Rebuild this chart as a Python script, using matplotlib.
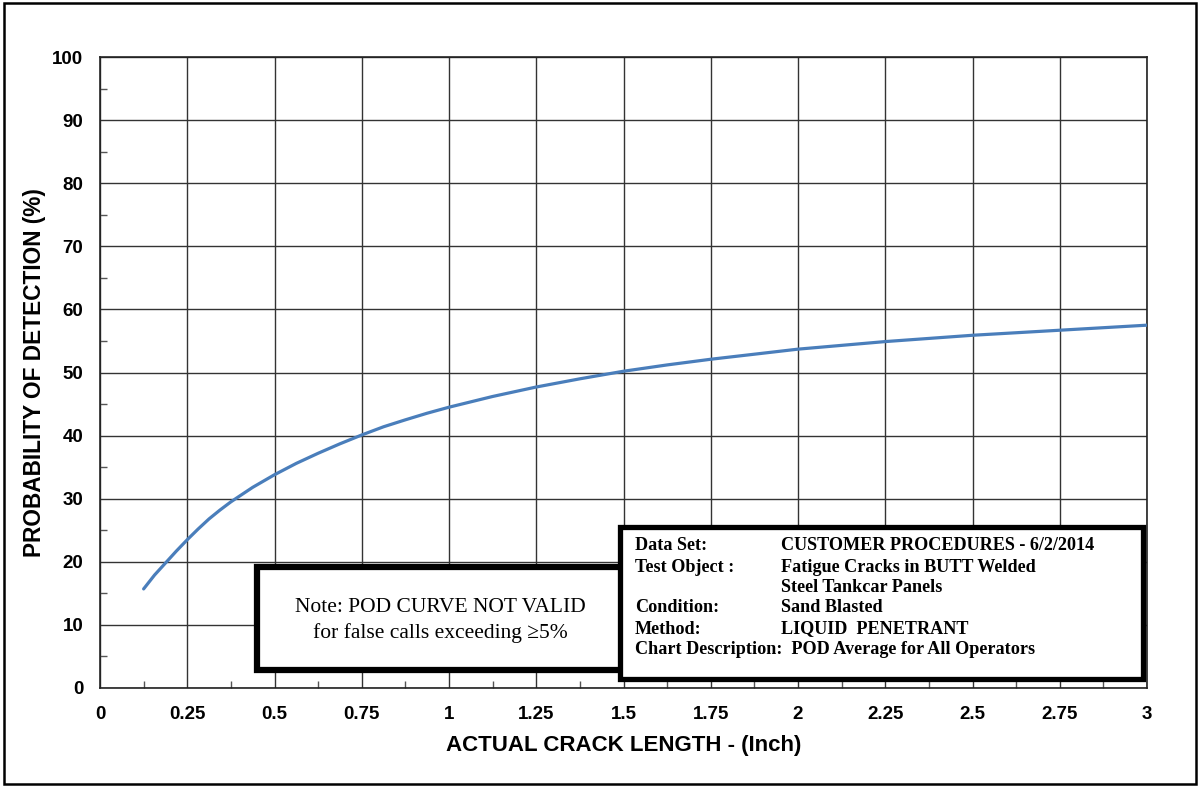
import matplotlib.pyplot as plt
from matplotlib.patches import Rectangle
from matplotlib.ticker import MultipleLocator

# POD curve: crack length (inch) vs probability of detection (%)
crack_len = [0.125, 0.15625, 0.1875, 0.21875, 0.25, 0.28125, 0.3125, 0.34375,
             0.375, 0.4375, 0.5, 0.5625, 0.625, 0.6875, 0.75, 0.8125, 0.875,
             0.9375, 1.0, 1.125, 1.25, 1.375, 1.5, 1.625, 1.75, 1.875, 2.0,
             2.25, 2.5, 2.75, 3.0]
pod = [15.7, 17.9, 19.8, 21.7, 23.5, 25.2, 26.8, 28.2,
       29.5, 31.8, 33.8, 35.6, 37.2, 38.7, 40.1, 41.4, 42.5,
       43.55, 44.5, 46.2, 47.7, 49.0, 50.2, 51.2, 52.1, 52.9, 53.7,
       54.9, 55.9, 56.7, 57.5]

x_ticks = [0, 0.25, 0.5, 0.75, 1, 1.25, 1.5, 1.75, 2, 2.25, 2.5, 2.75, 3]
x_tick_labels = ["0", "0.25", "0.5", "0.75", "1", "1.25", "1.5", "1.75",
                 "2", "2.25", "2.5", "2.75", "3"]
y_ticks = list(range(0, 101, 10))

info_labels = ["Data Set:", "Test Object :", "", "Condition:", "Method:"]
info_values = ["CUSTOMER PROCEDURES - 6/2/2014", "Fatigue Cracks in BUTT Welded",
               "Steel Tankcar Panels", "Sand Blasted", "LIQUID  PENETRANT"]
info_last = "Chart Description:  POD Average for All Operators"

W, H = 1199, 786
fig = plt.figure(figsize=(W / 100, H / 100), dpi=100)
ax = fig.add_axes([100 / W, 1 - 688 / H, 1047 / W, 631 / H])

ax.plot(crack_len, pod, color="#4a7ebb", linewidth=2.3, zorder=3,
        solid_joinstyle="round", solid_capstyle="round")

ax.set_xlim(0, 3)
ax.set_ylim(0, 100)
ax.set_xticks(x_ticks)
ax.set_xticklabels(x_tick_labels)
ax.set_yticks(y_ticks)
ax.xaxis.set_minor_locator(MultipleLocator(0.125))
ax.yaxis.set_minor_locator(MultipleLocator(5))
ax.tick_params(which="major", length=0, labelsize=13.5)
ax.tick_params(axis="x", which="major", pad=13)
ax.tick_params(axis="y", which="major", pad=12)
ax.tick_params(which="minor", direction="in", length=5, width=1, color="#555555")
for lbl in ax.get_xticklabels() + ax.get_yticklabels():
    lbl.set_fontfamily("Liberation Sans")
    lbl.set_fontweight("bold")
ax.grid(True, which="major", color="#333333", linewidth=1)
for s in ax.spines.values():
    s.set_color("#222222")
    s.set_linewidth(1.2)

ax.set_xlabel("ACTUAL CRACK LENGTH - (Inch)", fontsize=16, fontweight="bold",
              family="Liberation Sans")
ax.set_ylabel("PROBABILITY OF DETECTION (%)", fontsize=16.3, fontweight="bold",
              family="Liberation Sans")
ax.xaxis.set_label_coords(0.5, -0.075)
ax.yaxis.set_label_coords(-0.052, 0.5)


def px(x, y):
    return x / W, 1 - y / H


# note box
nx0, ny0 = px(257, 670)
nx1, ny1 = px(623, 567)
fig.add_artist(Rectangle((nx0, ny0), nx1 - nx0, ny1 - ny0, transform=fig.transFigure,
                         facecolor="white", edgecolor="black", linewidth=4.5, zorder=5))
fig.text(*px(440, 607), "Note: POD CURVE NOT VALID", ha="center", va="center",
         fontsize=15.5, family="Liberation Serif", zorder=6)
fig.text(*px(440, 633), "for false calls exceeding \u22655%", ha="center", va="center",
         fontsize=15.5, family="Liberation Serif", zorder=6)

# data set box
bx0, by0 = px(620, 679)
bx1, by1 = px(1143, 527)
fig.add_artist(Rectangle((bx0, by0), bx1 - bx0, by1 - by0, transform=fig.transFigure,
                         facecolor="white", edgecolor="black", linewidth=3.8, zorder=5))
line_y = [546, 567, 588, 608, 629]
for lab, val, yy in zip(info_labels, info_values, line_y):
    if lab:
        fig.text(*px(635, yy), lab, ha="left", va="center", fontsize=13.1,
                 fontweight="bold", family="Liberation Serif", zorder=6)
    fig.text(*px(781, yy), val, ha="left", va="center", fontsize=13.1,
             fontweight="bold", family="Liberation Serif", zorder=6)
fig.text(*px(635, 650), info_last, ha="left", va="center", fontsize=13.1,
         fontweight="bold", family="Liberation Serif", zorder=6)

# outer frame
fx0, fy0 = px(4, 784)
fx1, fy1 = px(1196, 3)
fig.add_artist(Rectangle((fx0, fy0), fx1 - fx0, fy1 - fy0, transform=fig.transFigure,
                         fill=False, edgecolor="black", linewidth=1.8))

fig.savefig("out.png", dpi=100)
